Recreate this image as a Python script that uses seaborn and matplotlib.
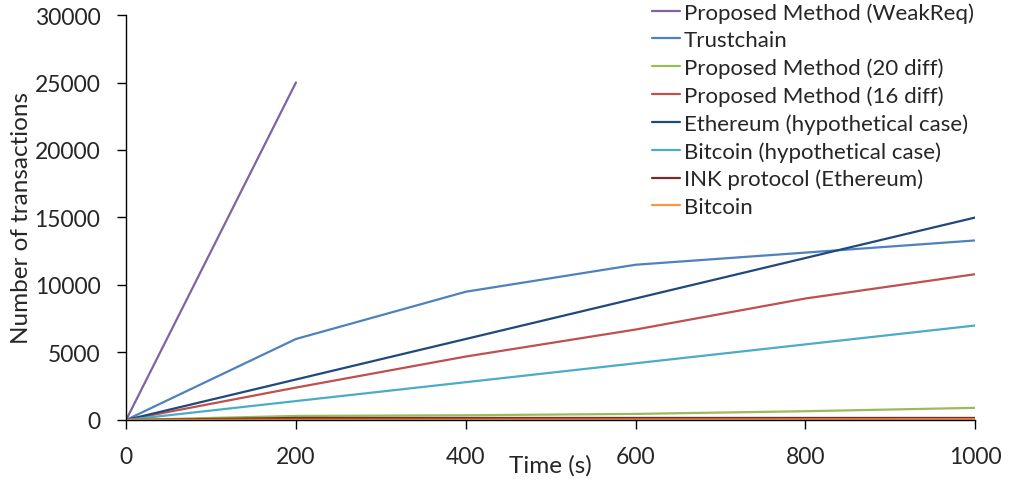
import matplotlib
matplotlib.use("Agg")
import matplotlib.pyplot as plt
import pandas as pd
import seaborn as sns

# time axis (s)
time = [0, 200, 400, 600, 800, 1000]

# series
weakreq = [0, 25000, None, None, None, None]
trustchain = [0, 6000, 9500, 11500, 12400, 13300]
diff20 = [0, 300, 350, 450, 650, 900]
diff16 = [0, 2400, 4700, 6700, 9000, 10800]
eth_hypo = [0, 3000, 6000, 9000, 12000, 15000]
btc_hypo = [0, 1400, 2800, 4200, 5600, 7000]
ink = [0, 150, 150, 150, 150, 150]
bitcoin = [0, 10, 20, 30, 40, 50]

names = ["Proposed Method (WeakReq)", "Trustchain", "Proposed Method (20 diff)",
         "Proposed Method (16 diff)", "Ethereum (hypothetical case)",
         "Bitcoin (hypothetical case)", "INK protocol (Ethereum)", "Bitcoin"]
series = [weakreq, trustchain, diff20, diff16, eth_hypo, btc_hypo, ink, bitcoin]
colors = ["#8064A2", "#4F81BD", "#9BBB59", "#C0504D", "#1F497D",
          "#4BACC6", "#772C2A", "#F79646"]

rows = []
for name, vals in zip(names, series):
    for t, v in zip(time, vals):
        if v is not None:
            rows.append({"time": t, "tx": v, "series": name})
df = pd.DataFrame(rows)

sns.set_style("white")
plt.rcParams["font.family"] = ["Lato", "DejaVu Sans"]

fig = plt.figure(figsize=(10.17, 4.85), dpi=100)
ax = fig.add_axes([0.124, 0.132, 0.835, 0.835])

sns.lineplot(data=df, x="time", y="tx", hue="series", hue_order=names,
             palette=dict(zip(names, colors)), linewidth=1.6, ax=ax)

ax.set_xlim(0, 1000)
ax.set_ylim(0, 30000)
ax.set_xticks(time)
ax.set_yticks(range(0, 30001, 5000))
ax.tick_params(axis="both", labelsize=16.5, direction="out", length=6.5,
               width=1, color="black", left=True, bottom=True, pad=12)
ax.set_xlabel("Time (s)", fontsize=17.5, labelpad=-9)
ax.set_ylabel("Number of transactions", fontsize=17.5, labelpad=2)

for s in ["top", "right"]:
    ax.spines[s].set_visible(False)
for s in ["left", "bottom"]:
    ax.spines[s].set_color("black")
    ax.spines[s].set_linewidth(1)

leg = ax.legend(loc="upper left", bbox_to_anchor=(652 / 1017, 0.994),
                bbox_transform=fig.transFigure, frameon=False,
                fontsize=16, handlelength=1.25, handletextpad=0.19,
                labelspacing=0.33, borderaxespad=0, borderpad=0)
for line in leg.get_lines():
    line.set_linewidth(1.6)

fig.savefig("out.png", dpi=100)
